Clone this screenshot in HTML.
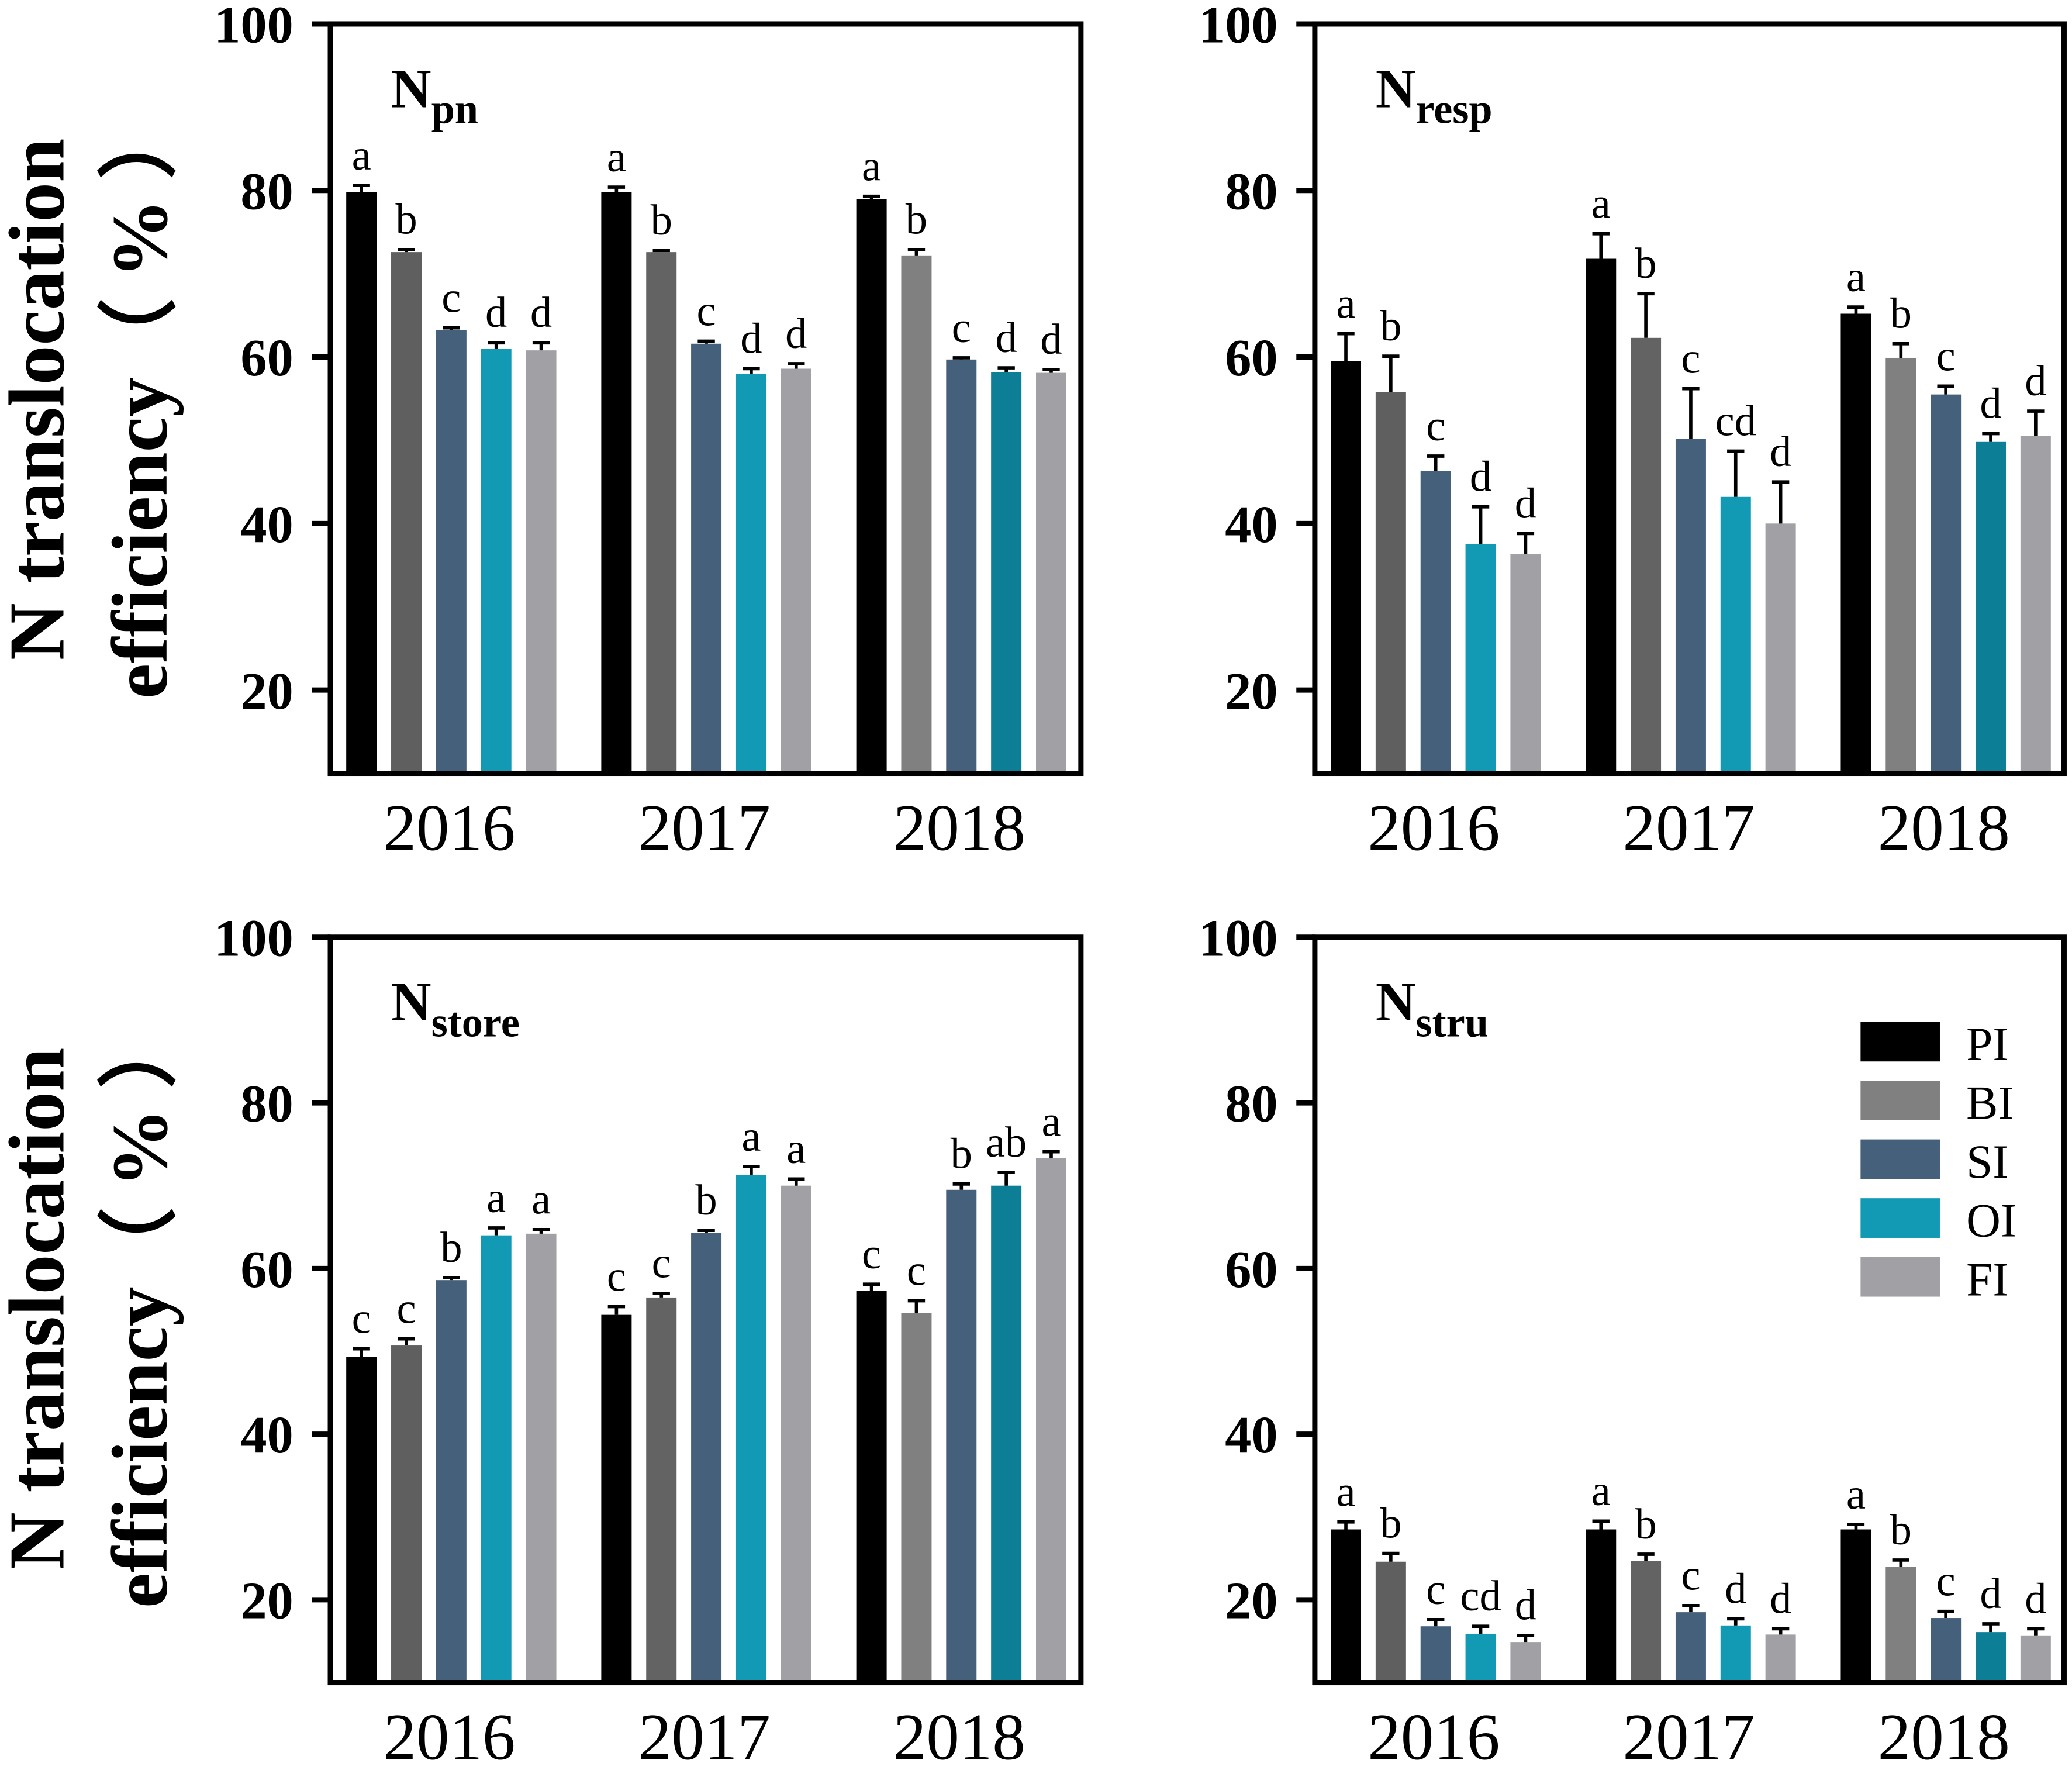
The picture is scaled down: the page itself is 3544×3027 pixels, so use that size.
<!DOCTYPE html>
<html><head><meta charset="utf-8"><style>
html,body{margin:0;padding:0;background:#fff;}
svg{display:block;font-family:"Liberation Serif",serif;}
</style></head><body>
<svg id="fig" width="3544" height="3027" viewBox="0 0 1568 1339" xmlns="http://www.w3.org/2000/svg">
<rect width="1568" height="1339" fill="#fff"/>
<g font-weight="bold" font-size="60" text-anchor="middle">
<text transform="translate(48,302) rotate(-90)">N translocation</text>
<text transform="translate(126,302) rotate(-90)">efficiency（ % ）</text>
</g>
<g font-weight="bold" font-size="60" text-anchor="middle">
<text transform="translate(48,990) rotate(-90)">N translocation</text>
<text transform="translate(126,990) rotate(-90)">efficiency（ % ）</text>
</g>
</svg>
<script>
const years=["2016","2017","2018"];
const series=["PI","BI","SI","OI","FI"];
const ticks=[20,40,60,80,100];
const npnVals=[[79.8,72.6,63.2,61.0,60.8],[79.8,72.6,61.6,58.0,58.6],[79.0,72.2,59.7,58.2,58.1]];
const npnErr=[[0.8,0.3,0.3,0.7,0.9],[0.6,0.2,0.3,0.6,0.6],[0.3,0.7,0.2,0.5,0.4]];
const npnLet=[["a","b","c","d","d"],["a","b","c","d","d"],["a","b","c","d","d"]];
const nrespVals=[[59.5,55.8,46.3,37.5,36.3],[71.8,62.3,50.2,43.2,40.0],[65.2,59.9,55.5,49.8,50.5]];
const nrespErr=[[3.3,4.3,1.8,4.5,2.5],[3.0,5.3,6.0,5.5,5.0],[0.8,1.7,1.0,1.0,3.0]];
const nrespLet=[["a","b","c","d","d"],["a","b","c","cd","d"],["a","b","c","d","d"]];
const nstoreVals=[[49.3,50.7,58.6,64.0,64.2],[54.4,56.5,64.3,71.3,70.0],[57.3,54.6,69.5,70.0,73.3]];
const nstoreErr=[[1.0,0.8,0.3,0.9,0.5],[1.0,0.5,0.3,1.0,0.8],[0.8,1.5,0.7,1.6,0.8]];
const nstoreLet=[["c","c","b","a","a"],["c","c","b","a","a"],["c","c","b","ab","a"]];
const nstruVals=[[28.5,24.6,16.8,15.9,14.9],[28.5,24.7,18.5,16.9,15.8],[28.5,24.0,17.8,16.1,15.7]];
const nstruErr=[[0.9,1.0,0.8,0.9,0.8],[1.0,0.8,0.8,0.8,0.7],[0.6,0.8,0.8,1.0,0.8]];
const nstruLet=[["a","b","c","cd","d"],["a","b","c","d","d"],["a","b","c","d","d"]];

const colors=[["#000","#5f5f5f","#45607a","#129ab5","#a0a0a5"],["#000","#636363","#45607a","#129ab5","#a0a0a5"],["#000","#808080","#45607a","#0c7e96","#a0a0a5"]];
const svg=document.getElementById('fig');
const NS="http://www.w3.org/2000/svg";
function mk(tag,at,parent){const e=document.createElementNS(NS,tag);for(const k in at)e.setAttribute(k,at[k]);(parent||svg).appendChild(e);return e;}

function panel(id,x0,x1,yTop,yBot,vals,errs,lets,title,sub,legend){
  const g=mk('g',{});
  
  
  const y=v=>yBot-(v-10)/90*(yBot-yTop);
  const xb=(gi,si)=>x0+12+gi*193+si*34;
  for(let gi=0;gi<3;gi++){for(let si=0;si<5;si++){
    const v=vals[gi][si],e=errs[gi][si],bx=xb(gi,si);
    const r=mk('rect',{x:bx,y:y(v),width:23,height:yBot-y(v),fill:colors[gi][si]},g);
    
    
    const eb=mk('path',{d:`M${bx+11.5},${y(v)}V${y(v+e)}M${bx+5},${y(v+e)}H${bx+18}`,stroke:'#000','stroke-width':2.5,fill:'none'},g);
    
    
    const t=mk('text',{x:bx+11.5,y:y(v+e)-12,'font-size':33,'text-anchor':'middle'},g);
    t.textContent=lets[gi][si];
    
    
  }
  const yl=mk('text',{x:x0+90+gi*193,y:yBot+58,'font-size':50,'text-anchor':'middle'},g);
  yl.textContent=years[gi];
  
  
  }
  const box=mk('rect',{x:x0,y:yTop,width:x1-x0,height:yBot-yTop,fill:'none',stroke:'#000','stroke-width':4},g);
  
  
  ticks.forEach(tv=>{
    const tk=mk('line',{x1:x0-14,x2:x0,y1:y(tv),y2:y(tv),stroke:'#000','stroke-width':4},g);
    
    
    const tl=mk('text',{x:x0-28,y:y(tv)+14,'font-size':40,'font-weight':'bold','text-anchor':'end'},g);
    tl.textContent=tv;
    
    
  });
  const tt=mk('text',{x:x0+46,y:yTop+63,'font-size':42,'font-weight':'bold'},g);
  
  
  const a=mk('tspan',{},tt);a.textContent='N';
  const b=mk('tspan',{dy:12,'font-size':32},tt);b.textContent=sub;
  if(legend){
    series.forEach((s,i)=>{
      const ly=yTop+64+i*44.5;
      const lr=mk('rect',{x:x0+413,y:ly,width:60,height:30,fill:colors[2][i===3?0:i]},g);
      if(i===3)lr.setAttribute('fill','#129ab5');
      if(i===1)lr.setAttribute('fill','#808080');
      
      
      const lt=mk('text',{x:x0+493,y:ly+29,'font-size':36},g);
      lt.textContent=s;
      
      
    });
  }
}
panel('npn',250,818,18,585,npnVals,npnErr,npnLet,'N','pn',false);
panel('nresp',995,1562,18,585,nrespVals,nrespErr,nrespLet,'N','resp',false);
panel('nstore',250,818,709,1273,nstoreVals,nstoreErr,nstoreLet,'N','store',false);
panel('nstru',995,1562,709,1273,nstruVals,nstruErr,nstruLet,'N','stru',true);
</script>
</body></html>
